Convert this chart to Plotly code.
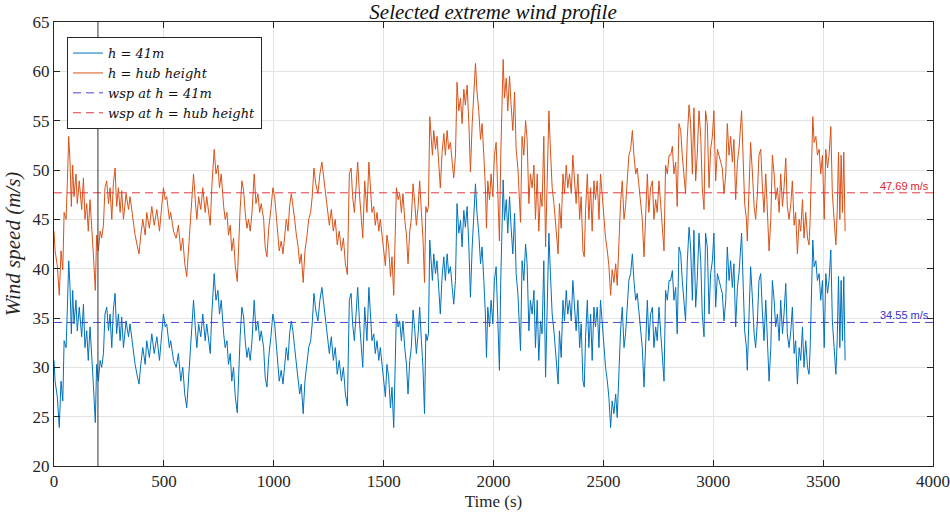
import plotly.graph_objects as go

# ---- data ----
time_s = [
    0, 5, 15, 24, 32, 40, 46, 55, 61, 67,
    73, 79, 85, 91, 100, 106, 115, 126, 134, 141,
    149, 156, 164, 172, 179, 188, 194, 202, 210, 217,
    225, 232, 240, 248, 255, 263, 270, 278, 285, 293,
    301, 308, 316, 328, 339, 346, 358, 369, 380, 387,
    395, 404, 415, 422, 434, 445, 456, 468, 480, 490,
    498, 506, 513, 525, 531, 544, 556, 566, 577, 586,
    595, 604, 612, 620, 627, 635, 644, 650, 658, 668,
    677, 688, 695, 703, 711, 718, 729, 737, 746, 753,
    761, 772, 779, 787, 794, 802, 809, 817, 825, 834,
    840, 847, 855, 863, 870, 878, 885, 893, 901, 911,
    919, 928, 936, 943, 954, 961, 969, 977, 987, 996,
    1004, 1011, 1019, 1025, 1034, 1042, 1049, 1057, 1065, 1072,
    1080, 1087, 1095, 1103, 1110, 1118, 1125, 1134, 1142, 1150,
    1159, 1168, 1175, 1183, 1191, 1201, 1210, 1219, 1229, 1236,
    1244, 1253, 1262, 1271, 1280, 1289, 1298, 1308, 1317, 1326,
    1335, 1344, 1352, 1359, 1367, 1374, 1382, 1390, 1397, 1405,
    1414, 1424, 1433, 1440, 1447, 1455, 1462, 1470, 1478, 1485,
    1493, 1500, 1508, 1515, 1523, 1531, 1538, 1546, 1552, 1558,
    1566, 1573, 1581, 1588, 1596, 1604, 1611, 1619, 1626, 1634,
    1642, 1649, 1657, 1664, 1672, 1679, 1686, 1692, 1698, 1704,
    1710, 1716, 1722, 1728, 1736, 1743, 1751, 1758, 1766, 1774,
    1781, 1789, 1796, 1804, 1812, 1819, 1827, 1834, 1842, 1850,
    1857, 1865, 1872, 1880, 1888, 1895, 1903, 1910, 1918, 1925,
    1933, 1941, 1948, 1956, 1963, 1968, 1974, 1982, 1989, 1997,
    2004, 2012, 2020, 2027, 2033, 2039, 2044, 2050, 2058, 2065,
    2073, 2080, 2088, 2096, 2103, 2111, 2123, 2130, 2138, 2146,
    2153, 2161, 2168, 2176, 2184, 2191, 2199, 2206, 2214, 2221,
    2229, 2237, 2244, 2252, 2259, 2267, 2275, 2282, 2290, 2294,
    2300, 2308, 2316, 2323, 2331, 2338, 2346, 2354, 2361, 2369,
    2376, 2384, 2392, 2399, 2407, 2413, 2419, 2427, 2434, 2442,
    2449, 2457, 2464, 2472, 2480, 2487, 2495, 2502, 2510, 2518,
    2525, 2533, 2540, 2548, 2556, 2563, 2571, 2578, 2586, 2594,
    2601, 2609, 2616, 2624, 2632, 2639, 2647, 2654, 2662, 2669,
    2677, 2685, 2692, 2700, 2707, 2715, 2723, 2730, 2738, 2745,
    2753, 2761, 2768, 2776, 2783, 2791, 2799, 2806, 2814, 2821,
    2829, 2836, 2844, 2852, 2859, 2867, 2874, 2882, 2890, 2897,
    2905, 2912, 2920, 2927, 2935, 2943, 2950, 2958, 2965, 2973,
    2981, 2988, 2996, 3003, 3011, 3019, 3026, 3034, 3041, 3049,
    3057, 3064, 3072, 3079, 3087, 3094, 3102, 3110, 3117, 3125,
    3129, 3137, 3143, 3151, 3155, 3163, 3170, 3178, 3186, 3193,
    3201, 3208, 3216, 3224, 3231, 3239, 3246, 3254, 3262, 3269,
    3277, 3284, 3292, 3300, 3307, 3315, 3322, 3330, 3337, 3345,
    3353, 3360, 3368, 3375, 3383, 3391, 3398, 3406, 3413, 3421,
    3429, 3436, 3441, 3447, 3453, 3459, 3467, 3474, 3482, 3489,
    3497, 3505, 3512, 3520, 3527, 3535, 3542, 3550, 3558, 3564,
    3570, 3576, 3582, 3588, 3594, 3600,
]

wind_41m = [
    30.7, 28.6, 27.0, 23.9, 28.6, 26.6, 32.7, 32.0, 36.1, 40.8,
    38.1, 33.4, 37.8, 34.4, 36.8, 33.7, 36.1, 33.1, 36.4, 32.0,
    33.7, 30.7, 34.1, 30.3, 28.3, 24.4, 30.3, 28.6, 30.7, 30.0,
    31.4, 35.4, 36.1, 33.7, 35.4, 32.0, 35.8, 37.5, 33.4, 35.4,
    32.7, 35.1, 32.0, 34.7, 33.1, 34.4, 32.0, 30.3, 29.0, 28.3,
    30.3, 32.0, 30.3, 32.7, 31.0, 33.4, 31.4, 33.1, 30.7, 33.4,
    35.4, 34.1, 34.4, 32.0, 32.7, 30.7, 30.0, 31.4, 28.6, 30.0,
    27.3, 25.9, 28.6, 32.0, 33.7, 36.8, 33.7, 32.0, 34.4, 33.1,
    35.4, 32.7, 34.4, 33.1, 31.4, 35.4, 39.5, 36.8, 37.8, 35.4,
    36.8, 33.4, 32.0, 32.7, 30.3, 31.4, 28.6, 30.0, 27.0, 25.4,
    30.0, 33.1, 36.1, 35.1, 32.7, 31.0, 32.0, 30.7, 32.7, 36.8,
    33.7, 34.7, 32.7, 33.7, 32.0, 29.0, 28.0, 31.0, 33.1, 35.4,
    34.4, 32.7, 30.7, 28.6, 29.7, 28.3, 30.0, 32.0, 30.7, 33.4,
    34.7, 33.7, 32.0, 30.3, 29.3, 27.3, 28.3, 25.3, 28.6, 30.0,
    32.0, 32.7, 34.4, 37.5, 35.8, 34.7, 36.8, 38.1, 36.1, 34.7,
    32.7, 31.4, 33.1, 30.7, 32.0, 29.3, 30.7, 28.6, 30.0, 27.3,
    26.1, 36.8, 37.5, 34.4, 32.7, 35.4, 38.1, 34.7, 32.0, 30.0,
    36.1, 32.7, 38.1, 35.4, 32.7, 33.4, 31.4, 32.7, 30.7, 32.0,
    30.0, 28.6, 27.0, 30.3, 29.0, 25.9, 28.0, 23.9, 29.3, 35.4,
    34.1, 34.7, 32.7, 34.7, 32.0, 30.3, 27.3, 30.7, 32.0, 35.8,
    33.7, 31.4, 33.4, 36.1, 32.7, 30.0, 25.3, 33.4, 32.7, 33.4,
    42.9, 40.5, 38.8, 41.5, 39.5, 40.8, 38.1, 35.4, 39.2, 41.2,
    38.8, 41.5, 39.5, 40.2, 38.1, 36.4, 38.8, 46.6, 43.6, 44.9,
    42.2, 45.9, 44.2, 46.3, 42.2, 37.1, 42.2, 45.6, 48.6, 45.6,
    43.6, 40.5, 42.2, 38.8, 35.4, 31.0, 36.1, 34.1, 36.8, 34.4,
    38.8, 40.2, 34.1, 29.7, 38.8, 43.9, 49.0, 44.9, 47.0, 43.6,
    47.3, 44.2, 41.5, 45.6, 39.5, 37.5, 31.7, 40.8, 38.8, 42.5,
    40.5, 33.7, 36.8, 35.4, 37.8, 32.0, 36.8, 30.7, 34.7, 33.4,
    40.8, 29.0, 36.4, 43.6, 39.5, 35.4, 33.7, 32.0, 30.0, 28.3,
    33.7, 31.0, 36.8, 34.7, 37.8, 35.4, 36.8, 34.7, 38.8, 36.1,
    33.7, 36.8, 32.0, 34.4, 28.6, 28.0, 33.1, 36.8, 32.0, 35.4,
    30.7, 36.1, 34.1, 36.1, 32.0, 36.8, 34.4, 32.0, 30.0, 28.6,
    27.0, 23.9, 26.6, 25.3, 27.3, 24.9, 30.0, 33.7, 36.1, 32.0,
    33.4, 36.1, 38.8, 39.5, 41.5, 38.8, 36.8, 37.5, 35.4, 33.7,
    32.0, 28.0, 32.7, 36.8, 32.7, 35.4, 36.1, 32.0, 34.1, 32.7,
    36.1, 33.4, 31.7, 28.6, 37.8, 36.8, 38.8, 38.8, 39.8, 36.8,
    38.1, 33.4, 42.2, 41.5, 38.8, 36.1, 34.7, 40.8, 44.2, 42.2,
    36.8, 43.9, 36.1, 38.8, 43.6, 40.8, 35.4, 33.1, 43.6, 42.2,
    35.4, 39.5, 40.8, 43.6, 36.1, 39.5, 38.8, 38.1, 37.5, 34.7,
    36.8, 42.2, 38.8, 40.8, 38.1, 40.5, 34.1, 38.1, 39.5, 42.2,
    43.6, 37.8, 33.7, 32.0, 29.7, 35.4, 40.2, 37.1, 33.4, 32.0,
    34.7, 38.8, 39.5, 35.4, 32.7, 36.8, 33.4, 28.6, 32.0, 38.8,
    36.8, 34.1, 35.4, 32.7, 36.8, 33.4, 35.4, 38.5, 33.4, 32.0,
    33.7, 36.1, 31.4, 32.7, 28.3, 32.0, 30.7, 34.1, 30.0, 32.7,
    30.0, 29.3, 32.0, 38.8, 42.9, 40.2, 40.8, 38.8, 39.5, 36.8,
    38.8, 32.0, 39.5, 37.5, 38.8, 41.9, 34.7, 32.0, 29.3, 32.7,
    39.2, 32.0, 38.8, 32.7, 39.2, 30.7,
]

wind_hub = [
    43.8, 41.8, 40.3, 37.3, 41.8, 39.9, 45.7, 45.0, 48.9, 53.4,
    50.8, 46.3, 50.5, 47.3, 49.6, 46.6, 48.9, 46.0, 49.2, 45.0,
    46.6, 43.8, 47.0, 43.4, 41.5, 37.8, 43.4, 41.8, 43.8, 43.1,
    44.4, 48.2, 48.9, 46.6, 48.2, 45.0, 48.6, 50.2, 46.3, 48.2,
    45.7, 47.9, 45.0, 47.6, 46.0, 47.3, 45.0, 43.4, 42.2, 41.5,
    43.4, 45.0, 43.4, 45.7, 44.1, 46.3, 44.4, 46.0, 43.8, 46.3,
    48.2, 47.0, 47.3, 45.0, 45.7, 43.8, 43.1, 44.4, 41.8, 43.1,
    40.5, 39.2, 41.8, 45.0, 46.6, 49.6, 46.6, 45.0, 47.3, 46.0,
    48.2, 45.7, 47.3, 46.0, 44.4, 48.2, 52.1, 49.6, 50.5, 48.2,
    49.6, 46.3, 45.0, 45.7, 43.4, 44.4, 41.8, 43.1, 40.3, 38.7,
    43.1, 46.0, 48.9, 47.9, 45.7, 44.1, 45.0, 43.8, 45.7, 49.6,
    46.6, 47.6, 45.7, 46.6, 45.0, 42.2, 41.2, 44.1, 46.0, 48.2,
    47.3, 45.7, 43.8, 41.8, 42.8, 41.5, 43.1, 45.0, 43.8, 46.3,
    47.6, 46.6, 45.0, 43.4, 42.4, 40.5, 41.5, 38.6, 41.8, 43.1,
    45.0, 45.7, 47.3, 50.2, 48.6, 47.6, 49.6, 50.8, 48.9, 47.6,
    45.7, 44.4, 46.0, 43.8, 45.0, 42.4, 43.8, 41.8, 43.1, 40.5,
    39.4, 49.6, 50.2, 47.3, 45.7, 48.2, 50.8, 47.6, 45.0, 43.1,
    48.9, 45.7, 50.8, 48.2, 45.7, 46.3, 44.4, 45.7, 43.8, 45.0,
    43.1, 41.8, 40.3, 43.4, 42.2, 39.2, 41.2, 37.3, 42.4, 48.2,
    47.0, 47.6, 45.7, 47.6, 45.0, 43.4, 40.5, 43.8, 45.0, 48.6,
    46.6, 44.4, 46.3, 48.9, 45.7, 43.1, 38.6, 46.3, 45.7, 46.3,
    55.4, 53.1, 51.5, 54.0, 52.1, 53.4, 50.8, 48.2, 51.8, 53.7,
    51.5, 54.0, 52.1, 52.8, 50.8, 49.2, 51.5, 58.9, 56.0, 57.3,
    54.7, 58.2, 56.6, 58.6, 54.7, 49.8, 54.7, 57.9, 60.8, 57.9,
    56.0, 53.1, 54.7, 51.5, 48.2, 44.1, 48.9, 47.0, 49.6, 47.3,
    51.5, 52.8, 47.0, 42.8, 51.5, 56.3, 61.2, 57.3, 59.3, 56.0,
    59.5, 56.6, 54.0, 57.9, 52.1, 50.2, 44.7, 53.4, 51.5, 55.0,
    53.1, 46.6, 49.6, 48.2, 50.5, 45.0, 49.6, 43.8, 47.6, 46.3,
    53.4, 42.2, 49.2, 56.0, 52.1, 48.2, 46.6, 45.0, 43.1, 41.5,
    46.6, 44.1, 49.6, 47.6, 50.5, 48.2, 49.6, 47.6, 51.5, 48.9,
    46.6, 49.6, 45.0, 47.3, 41.8, 41.2, 46.0, 49.6, 45.0, 48.2,
    43.8, 48.9, 47.0, 48.9, 45.0, 49.6, 47.3, 45.0, 43.1, 41.8,
    40.3, 37.3, 39.9, 38.6, 40.5, 38.3, 43.1, 46.6, 48.9, 45.0,
    46.3, 48.9, 51.5, 52.1, 54.0, 51.5, 49.6, 50.2, 48.2, 46.6,
    45.0, 41.2, 45.7, 49.6, 45.7, 48.2, 48.9, 45.0, 47.0, 45.7,
    48.9, 46.3, 44.7, 41.8, 50.5, 49.6, 51.5, 51.5, 52.4, 49.6,
    50.8, 46.3, 54.7, 54.0, 51.5, 48.9, 47.6, 53.4, 56.6, 54.7,
    49.6, 56.3, 48.9, 51.5, 56.0, 53.4, 48.2, 46.0, 56.0, 54.7,
    48.2, 52.1, 53.4, 56.0, 48.9, 52.1, 51.5, 50.8, 50.2, 47.6,
    49.6, 54.7, 51.5, 53.4, 50.8, 53.1, 47.0, 50.8, 52.1, 54.7,
    56.0, 50.5, 46.6, 45.0, 42.8, 48.2, 52.8, 49.8, 46.3, 45.0,
    47.6, 51.5, 52.1, 48.2, 45.7, 49.6, 46.3, 41.8, 45.0, 51.5,
    49.6, 47.0, 48.2, 45.7, 49.6, 46.3, 48.2, 51.2, 46.3, 45.0,
    46.6, 48.9, 44.4, 45.7, 41.5, 45.0, 43.8, 47.0, 43.1, 45.7,
    43.1, 42.4, 45.0, 51.5, 55.4, 52.8, 53.4, 51.5, 52.1, 49.6,
    51.5, 45.0, 52.1, 50.2, 51.5, 54.4, 47.6, 45.0, 42.4, 45.7,
    51.8, 45.0, 51.5, 45.7, 51.8, 43.8,
]

assert len(time_s) == len(wind_41m) == len(wind_hub)

wsp_41m = 34.55
wsp_hub = 47.69
x_span = [0, 4000]
marker_time = 200

names = ["h = 41m", "h = hub height", "wsp at h = 41m", "wsp at h = hub height"]

BLUE = "#0072BD"
ORANGE = "#D95319"
DBLUE = "rgb(70,70,205)"
DRED = "rgb(232,55,65)"
SERIF = "Liberation Serif, DejaVu Serif, serif"

fig = go.Figure()
fig.add_trace(go.Scatter(x=time_s, y=wind_41m, mode="lines", name=names[0],
                         line=dict(color=BLUE, width=1)))
fig.add_trace(go.Scatter(x=time_s, y=wind_hub, mode="lines", name=names[1],
                         line=dict(color=ORANGE, width=1)))
fig.add_trace(go.Scatter(x=x_span, y=[wsp_41m, wsp_41m], mode="lines", name=names[2],
                         line=dict(color=DBLUE, width=1, dash="8px,5px")))
fig.add_trace(go.Scatter(x=x_span, y=[wsp_hub, wsp_hub], mode="lines", name=names[3],
                         line=dict(color=DRED, width=1, dash="8px,5px")))

fig.add_shape(type="line", xref="x", yref="y", x0=marker_time, x1=marker_time,
              y0=20, y1=65, line=dict(color="#333333", width=1), layer="above")

fig.add_annotation(x=3990, y=wsp_hub, xref="x", yref="y", text=f"{wsp_hub:.2f} m/s",
                   showarrow=False, xanchor="right", yanchor="bottom", yshift=-1,
                   font=dict(family="Liberation Sans, Arial, sans-serif", size=11, color="rgb(225,35,45)"))
fig.add_annotation(x=3990, y=wsp_41m, xref="x", yref="y", text=f"{wsp_41m:.2f} m/s",
                   showarrow=False, xanchor="right", yanchor="bottom", yshift=-1,
                   font=dict(family="Liberation Sans, Arial, sans-serif", size=11, color="rgb(50,50,200)"))

axis_common = dict(
    showline=True, linecolor="#262626", linewidth=1, mirror="allticks",
    ticks="inside", ticklen=6, tickcolor="#262626",
    showgrid=True, gridcolor="#e3e3e3", gridwidth=1, zeroline=False,
    tickfont=dict(family=SERIF, size=17, color="#262626"),
    automargin=False,
)

fig.update_layout(
    width=950, height=517,
    margin=dict(l=54, r=17, t=22, b=51, autoexpand=False),
    paper_bgcolor="white", plot_bgcolor="white",
    title=dict(text="<i>Selected extreme wind profile</i>", x=0.519, xanchor="center",
               y=0.978, yanchor="middle", automargin=False,
               font=dict(family=SERIF, size=21, color="#111")),
    xaxis=dict(range=[0, 4000], dtick=500, tick0=0,
               title=dict(text="Time (s)", standoff=4,
                          font=dict(family=SERIF, size=17, color="#262626")),
               **axis_common),
    yaxis=dict(range=[20, 65], dtick=5, tick0=20,
               title=dict(text="<i>Wind speed (m/s)</i>", standoff=6,
                          font=dict(family=SERIF, size=21, color="#262626")),
               **axis_common),
    legend=dict(x=0.0148, y=0.966, xanchor="left", yanchor="top",
                bgcolor="white", bordercolor="#262626", borderwidth=1,
                font=dict(family="DejaVu Serif, serif", size=13, color="#111", style="italic"),
                itemwidth=30, tracegroupgap=0),
    showlegend=True,
)

fig.write_html("out.html")
